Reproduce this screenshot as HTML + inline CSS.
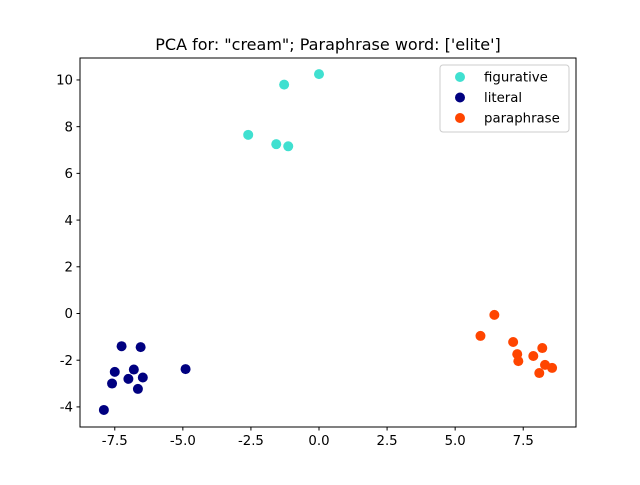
<!DOCTYPE html>
<html><head><meta charset="utf-8"><style>
body{margin:0;background:#fff}
svg text{font-family:"DejaVu Sans","Liberation Sans",sans-serif;fill:#000}
</style></head><body>
<svg id="chart" width="640" height="480" viewBox="0 0 640 480">
<rect width="640" height="480" fill="#fff"/>
<text x="328" y="50" font-size="16" text-anchor="middle">PCA for: "cream"; Paraphrase word: ['elite']</text>
<g id="ticks"></g>
<g id="points"></g>
<rect x="80" y="58" width="496" height="369" fill="none" stroke="#000" stroke-width="1"/>
<g>
<rect x="440" y="65" width="129" height="67" rx="3" fill="#fff" fill-opacity="0.8" stroke="#ccc"/>
<g id="legend-items"></g>
</g>
</svg>
<script>
const xTicks=[-7.5,-5.0,-2.5,0.0,2.5,5.0,7.5];
const yTicks=[-4,-2,0,2,4,6,8,10];
const seriesNames=["figurative","literal","paraphrase"];
const seriesColors=["#40E0D0","#000080","#FF4500"];
const figX=[0,-1.28,-2.6,-1.57,-1.13];
const figY=[10.25,9.8,7.65,7.25,7.16];
const litX=[-7.9,-7.6,-7.5,-7.25,-7.0,-6.8,-6.65,-6.55,-6.47,-4.9];
const litY=[-4.13,-3.0,-2.5,-1.4,-2.8,-2.4,-3.23,-1.44,-2.74,-2.38];
const parX=[6.44,5.93,7.13,7.28,7.32,7.87,8.2,8.3,8.56,8.09];
const parY=[-0.06,-0.96,-1.22,-1.74,-2.04,-1.82,-1.48,-2.2,-2.33,-2.55];
const X0=-8.777,X1=9.438,Y0=-4.86,Y1=10.94;
const sx=v=>80+(v-X0)/(X1-X0)*496;
const sy=v=>427-(v-Y0)/(Y1-Y0)*369;
const NS="http://www.w3.org/2000/svg";
function mk(t,a,p){const e=document.createElementNS(NS,t);for(const k in a)e.setAttribute(k,a[k]);p.appendChild(e);return e;}
const tg=document.getElementById('ticks');
xTicks.forEach(v=>{const x=sx(v);
const l=mk('line',{x1:x,x2:x,y1:427,y2:430.5,stroke:'#000'},tg);


const t=mk('text',{x:x,y:445,'font-size':13.3,'text-anchor':'middle'},tg);t.textContent=v.toFixed(1);

});
yTicks.forEach(v=>{const y=sy(v);
const l=mk('line',{x1:76.5,x2:80,y1:y,y2:y,stroke:'#000'},tg);


const t=mk('text',{x:73,y:y+4.7,'font-size':13.3,'text-anchor':'end'},tg);t.textContent=String(v);

});
const pg=document.getElementById('points');
[[figX,figY],[litX,litY],[parX,parY]].forEach((s,i)=>{s[0].forEach((x,j)=>{
const c=mk('circle',{cx:sx(x),cy:sy(s[1][j]),r:5,fill:seriesColors[i]},pg);

});});
const lg=document.getElementById('legend-items');
seriesNames.forEach((n,i)=>{const y=77+i*20.5;
const c=mk('circle',{cx:460,cy:y,r:5,fill:seriesColors[i]},lg);


const t=mk('text',{x:484,y:y+4.7,'font-size':13.3},lg);t.textContent=n;

});
</script>
</body></html>
